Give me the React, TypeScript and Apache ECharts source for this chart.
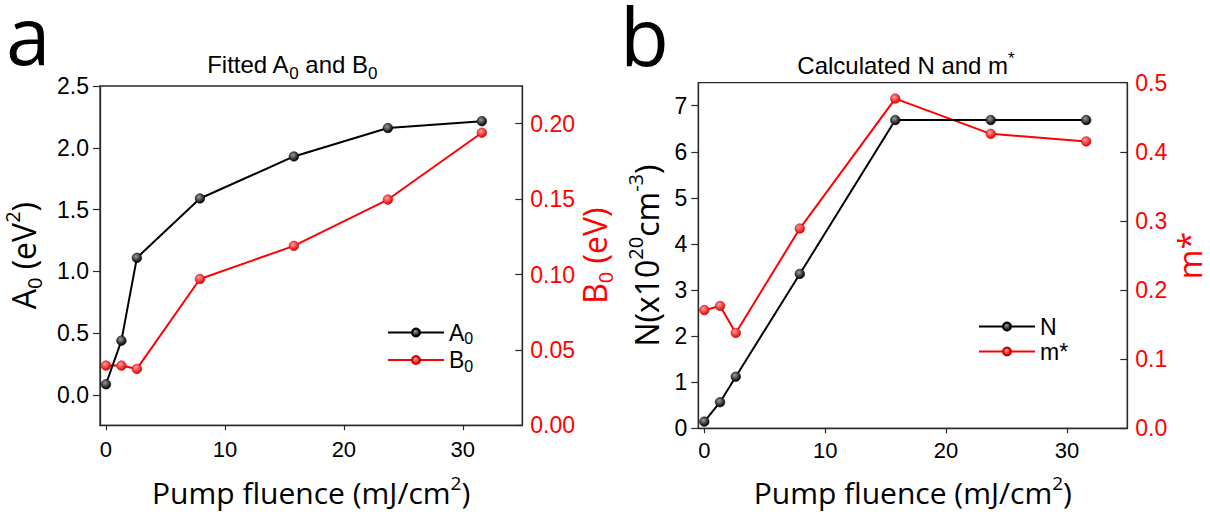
import React, { useEffect, useRef } from "react";
import * as echarts from "echarts";

// ---------- data ----------
const fluence = [0, 1.3, 2.6, 7.9, 15.8, 23.7, 31.6];
const A0 = [0.087, 0.44, 1.11, 1.59, 1.93, 2.16, 2.215];
const B0 = [0.0396, 0.0396, 0.0374, 0.097, 0.119, 0.1497, 0.194];
const N = [0.145, 0.566, 1.12, 3.35, 6.69, 6.69, 6.69];
const mStar = [0.171, 0.177, 0.138, 0.289, 0.477, 0.426, 0.415];

const xTicks = [0, 10, 20, 30];
const aLeftTicks = [0, 0.5, 1, 1.5, 2, 2.5];
const aRightTicks = [0, 0.05, 0.1, 0.15, 0.2];
const bLeftTicks = [0, 1, 2, 3, 4, 5, 6, 7];
const bRightTicks = [0, 0.1, 0.2, 0.3, 0.4, 0.5];

const pair = (xs: number[], ys: number[]) => xs.map((x, i) => [x, ys[i]]);

const RED = "#ff0000";
const BLACK = "#000000";
const FRAME = "#2a2a2a";
const TICKFONT = "'Liberation Sans', Arial, sans-serif";
const NAMEFONT = "'Open Sans', sans-serif";

const richFor = (size: number, color: string, family = NAMEFONT, lh = 1.3, subRatio = 0.62) => ({
  n: { fontSize: size, fontFamily: family, color, lineHeight: Math.round(size * lh) },
  sub: { fontSize: Math.round(size * subRatio), fontFamily: family, color, verticalAlign: "bottom", lineHeight: Math.round(size * subRatio) },
  sup: { fontSize: Math.round(size * subRatio), fontFamily: family, color, verticalAlign: "top", lineHeight: Math.round(size * 0.75) },
});

const ballGrad = (light: string, dark: string) => ({
  type: "radial",
  x: 0.4,
  y: 0.35,
  r: 0.65,
  colorStops: [
    { offset: 0, color: light },
    { offset: 1, color: dark },
  ],
});

const xAxisFor = (gridIndex: number, gap: number, margin: number) => ({
  type: "value",
  gridIndex,
  min: -0.5,
  max: 35,
  axisLine: { show: true, onZero: false, lineStyle: { color: FRAME, width: 1.3 } },
  axisTick: { show: true, inside: false, length: 5, customValues: xTicks, lineStyle: { color: FRAME, width: 1.2 } },
  axisLabel: { customValues: xTicks, margin, fontSize: 22, fontFamily: TICKFONT, color: BLACK },
  splitLine: { show: false },
  name: "{n|Pump fluence (mJ/cm}{sup|2}{n|)}",
  nameLocation: "middle",
  nameGap: gap,
  nameTextStyle: { rich: richFor(30, BLACK) },
});

const yAxisFor = (o: any) => ({
  type: "value",
  gridIndex: o.grid,
  position: o.pos,
  min: o.min,
  max: o.max,
  axisLine: { show: true, onZero: false, lineStyle: { color: FRAME, width: 1.3 } },
  axisTick: {
    show: true,
    inside: o.pos === "right",
    length: 7,
    customValues: o.ticks,
    lineStyle: { color: FRAME, width: 1.2 },
  },
  axisLabel: {
    customValues: o.ticks,
    margin: o.pos === "right" ? 8 : 11,
    fontSize: 23,
    fontFamily: TICKFONT,
    color: o.color,
    formatter: (v: number) => v.toFixed(o.dec),
  },
  splitLine: { show: false },
  name: o.name,
  nameLocation: "middle",
  nameGap: o.gap,
  nameTextStyle: { rich: richFor(32, o.color) },
});

const lineSeries = (name: string, xi: number, yi: number, xs: number[], ys: number[], red: boolean) => ({
  type: "line",
  name,
  xAxisIndex: xi,
  yAxisIndex: yi,
  data: pair(xs, ys),
  symbol: "circle",
  symbolSize: 9.5,
  showSymbol: true,
  lineStyle: { color: red ? RED : BLACK, width: 2 },
  itemStyle: {
    color: red ? ballGrad("#ff9c9c", "#e80000") : ballGrad("#9a9a9a", "#000000"),
    borderColor: red ? "#cc0000" : "#000",
    borderWidth: 0.6,
  },
  emphasis: { disabled: true },
  z: red ? 3 : 4,
});

const legendRich = {
  n: { fontSize: 23, fontFamily: TICKFONT, color: BLACK, lineHeight: 28 },
  sub: { fontSize: 16, fontFamily: TICKFONT, color: BLACK, verticalAlign: "bottom", lineHeight: 10 },
};

export default function App() {
  const ref = useRef<HTMLDivElement>(null);
  useEffect(() => {
    if (!ref.current) return;
    const chart = echarts.init(ref.current, undefined, { renderer: "svg" });
    const option: any = {
      animation: false,
      backgroundColor: "#ffffff",
      grid: [
        { left: 100, top: 86, width: 422.3, height: 339.3, show: true, borderColor: FRAME, borderWidth: 1.3, backgroundColor: "transparent" },
        { left: 698.3, top: 82.7, width: 429, height: 345.6, show: true, borderColor: FRAME, borderWidth: 1.3, backgroundColor: "transparent" },
      ],
      xAxis: [xAxisFor(0, 48, 13), xAxisFor(1, 45, 11)],
      yAxis: [
        yAxisFor({ grid: 0, pos: "left", min: -0.245, max: 2.5, ticks: aLeftTicks, dec: 1, color: BLACK, gap: 56, name: "{n|A}{sub|0}{n| (eV}{sup|2}{n|)}" }),
        yAxisFor({ grid: 0, pos: "right", min: 0, max: 0.225, ticks: aRightTicks, dec: 2, color: RED, gap: 44, name: "{n|B}{sub|0}{n| (eV)}" }),
        yAxisFor({ grid: 1, pos: "left", min: 0, max: 7.5, ticks: bLeftTicks, dec: 0, color: BLACK, gap: 31, name: "{n|N(x10}{sup|20}{n|cm}{sup|-3}{n|)}" }),
        yAxisFor({ grid: 1, pos: "right", min: 0, max: 0.5, ticks: bRightTicks, dec: 1, color: RED, gap: 41, name: "{n|m*}" }),
      ],
      legend: [
        {
          data: ["A0", "B0"],
          orient: "vertical",
          left: 382,
          top: 316,
          itemWidth: 56,
          itemHeight: 10,
          itemGap: 2,
          formatter: (name: string) => (name === "A0" ? "{n|A}{sub|0}" : "{n|B}{sub|0}"),
          textStyle: { rich: legendRich },
          selectedMode: false,
        },
        {
          data: ["N", "m*"],
          orient: "vertical",
          left: 973,
          top: 310,
          itemWidth: 56,
          itemHeight: 10,
          itemGap: 2,
          formatter: (name: string) => `{n|${name}}`,
          textStyle: { rich: legendRich },
          selectedMode: false,
        },
      ],
      graphic: [
        { type: "text", x: 6, y: 2, style: { text: "a", fontSize: 80, lineHeight: 62, verticalAlign: "top", fontFamily: NAMEFONT, fill: "#000" } },
        { type: "text", x: 620, y: 3, style: { text: "b", fontSize: 80, lineHeight: 62, verticalAlign: "top", fontFamily: NAMEFONT, fill: "#000" } },
        {
          type: "text",
          x: 292,
          y: 64,
          style: {
            text: "{n|Fitted A}{sub|0}{n| and B}{sub|0}",
            align: "center",
            verticalAlign: "middle",
            rich: richFor(24, BLACK, TICKFONT, 1.5, 0.7),
          },
        },
        {
          type: "text",
          x: 906,
          y: 65,
          style: {
            text: "{n|Calculated N and m}{sup|*}",
            align: "center",
            verticalAlign: "middle",
            rich: richFor(24, BLACK, TICKFONT, 1.3, 0.7),
          },
        },
      ],
      series: [
        lineSeries("A0", 0, 0, fluence, A0, false),
        lineSeries("B0", 0, 1, fluence, B0, true),
        lineSeries("N", 1, 2, fluence, N, false),
        lineSeries("m*", 1, 3, fluence, mStar, true),
      ],
    };
    chart.setOption(option);
    return () => chart.dispose();
  }, []);
  return <div ref={ref} style={{ position: "fixed", left: 0, top: 0, width: 1210, height: 516, background: "#fff" }} />;
}
